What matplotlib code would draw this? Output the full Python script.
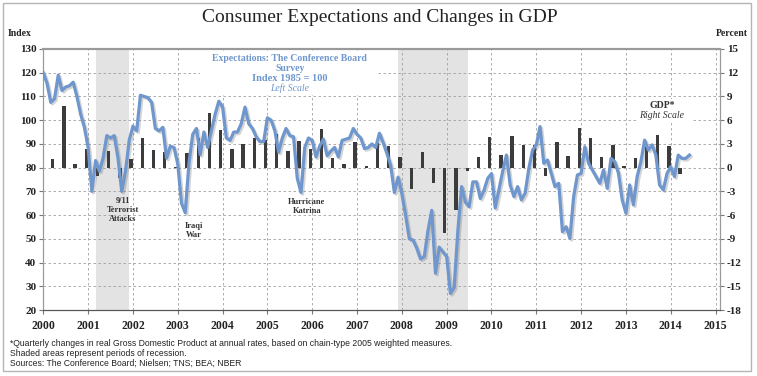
import matplotlib
matplotlib.use("Agg")
import matplotlib.pyplot as plt
import matplotlib.patheffects as pe
from matplotlib.patches import Rectangle
import numpy as np

plt.rcParams["axes.unicode_minus"] = False

# Conference Board Expectations Index (1985 = 100), monthly Jan 2000 - Jun 2014
expectations = [
    120, 115.5, 107.5, 109, 119, 112.5, 114, 114.5, 116, 110, 102.5, 97,     # 2000
    88.5, 70, 83, 78.5, 84, 93.5, 92.5, 93.5, 84, 70, 78.5, 91.5,             # 2001
    97.5, 95.5, 110.5, 110, 109.5, 107.5, 96.5, 95.5, 97, 84, 89, 88.5,       # 2002
    81.5, 65, 61, 82, 94, 96.5, 85.5, 95, 88.5, 95.5, 102.5, 108,             # 2003
    105.5, 92.5, 91.5, 95, 95, 98.5, 105.5, 98.5, 96.5, 93, 91, 91,           # 2004
    101, 100, 95.5, 86.5, 92.5, 96.5, 93.5, 93, 75.5, 69.5, 88.5, 92.5,       # 2005
    91.5, 84.5, 89, 92, 85, 87, 88.5, 84.5, 91.5, 92, 92.5, 96.5,             # 2006
    94, 92.5, 88, 88.5, 90, 88.5, 94.5, 90.5, 86, 81, 69.5, 76,               # 2007
    69, 60, 50, 49.5, 46, 41.5, 42.5, 53.5, 62, 35.5, 46.5, 44.5,             # 2008
    42.5, 27, 29.5, 53.5, 72, 65.5, 63.5, 74, 74, 67, 70.5, 75.5,             # 2009
    77.5, 63, 70.8, 78.5, 85.3, 72.7, 67.8, 72, 66.4, 69.2, 79.7, 87.4,       # 2010
    89.6, 97.3, 81.8, 83.2, 77.6, 72, 73.4, 53, 55.1, 50.2, 67.8, 76.9,       # 2011
    77.6, 88.8, 81.8, 79, 76.2, 73.4, 79, 71.3, 83.9, 82.5, 77.6, 66.4,       # 2012
    60.8, 72.7, 64.3, 76.2, 82.5, 91.6, 87.4, 89.6, 85.3, 72.7, 70.6, 77.6,   # 2013
    80.4, 76.2, 85.3, 83.9, 83.9, 85.3,                                        # 2014
]

# real GDP, quarterly % change at annual rate, 2000Q1 - 2014Q1
gdp = [
    1.1, 7.8, 0.5, 2.3,
    -1.1, 2.1, -1.3, 1.1,
    3.7, 2.2, 2.0, 0.1,
    1.9, 3.8, 6.9, 4.8,
    2.3, 3.0, 3.7, 3.5,
    4.3, 2.1, 3.4, 2.3,
    4.9, 1.2, 0.4, 3.2,
    0.2, 3.1, 2.7, 1.4,
    -2.7, 2.0, -1.9, -8.3,
    -5.4, -0.4, 1.3, 3.9,
    1.6, 4.0, 2.9, 2.8,
    -1.1, 3.3, 1.5, 5.0,
    3.7, 1.3, 2.9, 0.2,
    1.2, 2.6, 4.1, 2.7,
    -0.8,
]

recessions = [(2001.17, 2001.92), (2007.92, 2009.47)]
years = list(range(2000, 2016))

BLUE = "#6f97cd"
SERIF = "Liberation Serif"

month_x = 2000 + np.arange(len(expectations)) / 12
quarter_x = 2000 + (3 * np.arange(len(gdp)) + 2.5) / 12

fig = plt.figure(figsize=(7.57, 3.76), dpi=100)
ax2 = fig.add_axes([0.0572, 0.1755, 0.894, 0.6942])  # right scale, drawn underneath
ax = ax2.twinx()
ax.yaxis.tick_left()
ax.yaxis.set_label_position("left")
ax2.yaxis.tick_right()
ax2.yaxis.set_label_position("right")
ax.set_zorder(ax2.get_zorder() + 1)
ax.patch.set_visible(False)

for start, end in recessions:
    ax2.axvspan(start, end, color="#e3e3e3", zorder=0, lw=0)

ax2.bar(quarter_x, gdp, width=0.075, color="#3c3c3c", zorder=3)
ax2.set_ylim(-18, 15)
ax2.set_yticks(range(-18, 16, 3))
ax2.set_xlim(2000, 2015.1)
ax2.set_xticks(years)
ax2.grid(True, color="#a0a0a0", linestyle=(0, (3, 3)), linewidth=0.6, zorder=1)
ax2.set_axisbelow(True)

ax.plot(month_x, expectations, color=BLUE, lw=2.3, solid_joinstyle="round",
        path_effects=[pe.SimpleLineShadow(offset=(1.2, -1.2), alpha=0.25, shadow_color="#555555"),
                      pe.Normal()], zorder=5)
ax.set_ylim(20, 130)
ax.set_yticks(range(20, 131, 10))
ax.set_xlim(2000, 2015.1)

for a in (ax, ax2):
    for side in ("top", "left", "right", "bottom"):
        a.spines[side].set_color("#9a9a9a")
    a.spines["top"].set_linewidth(1.5)
    a.spines["bottom"].set_color("#555555")
    a.tick_params(labelsize=8, length=3, color="#777777", pad=2)
    for lbl in a.get_xticklabels() + a.get_yticklabels():
        lbl.set_fontfamily(SERIF)
        lbl.set_fontweight("bold")
        lbl.set_color("#222222")
ax.tick_params(axis="x", labelsize=8.5, pad=4)
ax2.tick_params(axis="x", labelsize=8.5, pad=4)

# legend-like labels with white backing
ax.add_patch(Rectangle((2003.5, 110.6), 3.97, 18.0, facecolor="white", edgecolor="none", zorder=2))
ax.text(2005.5, 126.1, "Expectations: The Conference Board", ha="center", va="center",
        fontsize=7, family=SERIF, weight="bold", color=BLUE, zorder=3)
ax.text(2005.5, 121.9, "Survey", ha="center", va="center",
        fontsize=7, family=SERIF, weight="bold", color=BLUE, zorder=3)
ax.text(2005.5, 117.4, "Index 1985 = 100", ha="center", va="center",
        fontsize=7.5, family=SERIF, weight="bold", color=BLUE, zorder=3)
ax.text(2005.5, 113.4, "Left Scale", ha="center", va="center",
        fontsize=7, family=SERIF, style="italic", color=BLUE, zorder=3)

ax.add_patch(Rectangle((2013.25, 99.5), 1.2, 9.5, facecolor="white", edgecolor="none", zorder=2))
ax.text(2013.8, 106.0, "GDP*", ha="center", va="center",
        fontsize=7, family=SERIF, weight="bold", color="#333333", zorder=3)
ax.text(2013.8, 101.8, "Right Scale", ha="center", va="center",
        fontsize=7, family=SERIF, style="italic", color="#333333", zorder=3)

event_style = dict(ha="center", va="top", fontsize=6, family=SERIF, weight="bold",
                   color="#333333", linespacing=1.15, zorder=3)
ax.text(2001.78, 67.5, "9/11\nTerrorist\nAttacks", **event_style)
ax.text(2003.36, 57.0, "Iraqi\nWar", **event_style)
ax.text(2005.88, 67.0, "Hurricane\nKatrina", **event_style)

fig.text(380 / 757, 1 - 18 / 376, "Consumer Expectations and Changes in GDP",
         ha="center", va="center", fontsize=14, family=SERIF, color="#222222")
fig.text(20 / 757, 1 - 33 / 376, "Index", ha="center", va="center",
         fontsize=7, family=SERIF, weight="bold", color="#222222")
fig.text(732 / 757, 1 - 34 / 376, "Percent", ha="center", va="center",
         fontsize=7, family=SERIF, weight="bold", color="#222222")

notes = [
    "*Quarterly changes in real Gross Domestic Product at annual rates, based on chain-type 2005 weighted measures.",
    "Shaded areas represent periods of recession.",
    "Sources: The Conference Board; Nielsen; TNS; BEA; NBER",
]
for i, note in enumerate(notes):
    fig.text(10 / 757, 1 - (343 + 10 * i) / 376, note, ha="left", va="center",
             fontsize=6.2, family="Liberation Sans", color="#222222")

fig.patches.append(Rectangle((0.004, 0.014), 0.988, 0.978, transform=fig.transFigure,
                             fill=False, edgecolor="#b5b5b5", linewidth=1))

fig.savefig("out.png", dpi=100)
